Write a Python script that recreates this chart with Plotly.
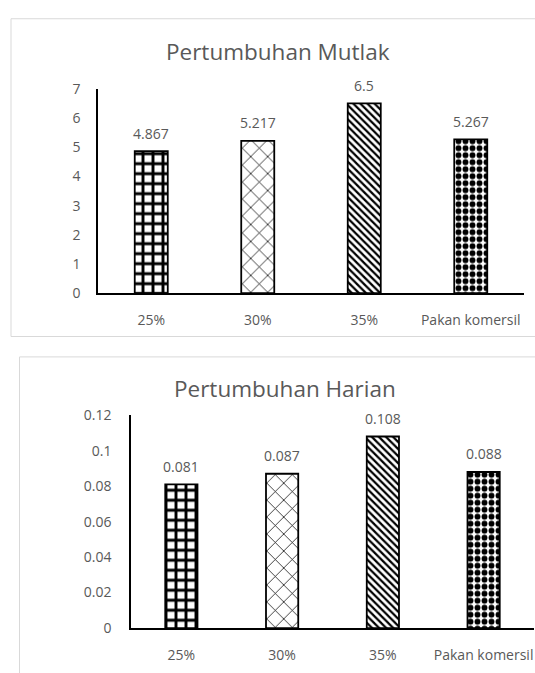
import plotly.graph_objects as go

categories = ["25%", "30%", "35%", "Pakan komersil"]
mutlak_values = [4.867, 5.217, 6.5, 5.267]
harian_values = [0.081, 0.087, 0.108, 0.088]
mutlak_ticks = [0, 1, 2, 3, 4, 5, 6, 7]
harian_ticks = [0, 0.02, 0.04, 0.06, 0.08, 0.1, 0.12]
harian_ticktext = ["0", "0.02", "0.04", "0.06", "0.08", "0.1", "0.12"]

W, H = 535, 673
FONT = "Open Sans"
GRAY = "#595959"

def px(x):
    return x / W

def py(y):
    return 1 - y / H

patterns = [
    dict(shape="+", size=10, solidity=0.5, fgcolor="black", bgcolor="white", fillmode="replace"),
    dict(shape="x", size=12, solidity=0.12, fgcolor="black", bgcolor="white", fillmode="replace"),
    dict(shape="\\", size=5, solidity=0.45, fgcolor="black", bgcolor="white", fillmode="replace"),
    dict(shape=".", size=7, solidity=0.55, fgcolor="black", bgcolor="white", fillmode="replace"),
]

fig = go.Figure()

for i, cat in enumerate(categories):
    fig.add_trace(go.Bar(x=[cat], y=[mutlak_values[i]], xaxis="x", yaxis="y",
                         width=0.31, marker=dict(color="white", pattern=patterns[i],
                         line=dict(color="black", width=1.8)), showlegend=False))
    fig.add_trace(go.Bar(x=[cat], y=[harian_values[i]], xaxis="x2", yaxis="y2",
                         width=0.32, marker=dict(color="white", pattern=patterns[i],
                         line=dict(color="black", width=1.8)), showlegend=False))

annotations = []
for i, cat in enumerate(categories):
    annotations.append(dict(x=cat, y=mutlak_values[i], xref="x", yref="y", text=str(mutlak_values[i]),
                            showarrow=False, yshift=18, font=dict(family=FONT, size=14, color=GRAY)))
    annotations.append(dict(x=cat, y=harian_values[i], xref="x2", yref="y2", text=str(harian_values[i]),
                            showarrow=False, yshift=18, font=dict(family=FONT, size=14, color=GRAY)))

annotations.append(dict(x=px(278), y=py(43), xref="paper", yref="paper", text="Pertumbuhan Mutlak",
                        xanchor="center", yanchor="middle",
                        showarrow=False, font=dict(family=FONT, size=22.5, color=GRAY)))
annotations.append(dict(x=px(285), y=py(390), xref="paper", yref="paper", text="Pertumbuhan Harian",
                        xanchor="center", yanchor="middle",
                        showarrow=False, font=dict(family=FONT, size=22.5, color=GRAY)))

axis_common = dict(showgrid=False, zeroline=False, showline=True, linecolor="black", linewidth=1.5,
                   ticks="", tickfont=dict(family=FONT, size=14, color=GRAY))

fig.update_layout(
    width=W, height=H, margin=dict(l=0, r=0, t=0, b=0),
    paper_bgcolor="white", plot_bgcolor="white", barmode="overlay",
    xaxis=dict(domain=[px(98), px(524)], anchor="y", categoryorder="array", categoryarray=categories,
               ticklabelstandoff=13, **axis_common),
    yaxis=dict(domain=[py(291.5), py(81)], anchor="x", range=[0, 7], tickvals=mutlak_ticks,
               ticklabelstandoff=13, **axis_common),
    xaxis2=dict(domain=[px(131), px(534)], anchor="y2", categoryorder="array", categoryarray=categories,
                ticklabelstandoff=13, **axis_common),
    yaxis2=dict(domain=[py(636), py(417)], anchor="x2", range=[0, 0.12], tickvals=harian_ticks,
                ticktext=harian_ticktext, ticklabelstandoff=15, **axis_common),
    annotations=annotations,
    shapes=[
        dict(type="rect", xref="paper", yref="paper", x0=px(11), x1=px(545), y0=py(336), y1=py(9),
             line=dict(color="#d9d9d9", width=1), fillcolor="rgba(0,0,0,0)", layer="below"),
        dict(type="rect", xref="paper", yref="paper", x0=px(19.5), x1=px(545), y0=py(690), y1=py(357),
             line=dict(color="#d9d9d9", width=1), fillcolor="rgba(0,0,0,0)", layer="below"),
    ],
)

post = ("document.body.style.margin='0';"
        "document.documentElement.style.overflow='hidden';"
        "var d=document.getElementById('{plot_id}');"
        "d.style.position='fixed';d.style.left='0px';d.style.top='0px';")

fig.write_html("out.html", config={"displayModeBar": False}, post_script=post)
